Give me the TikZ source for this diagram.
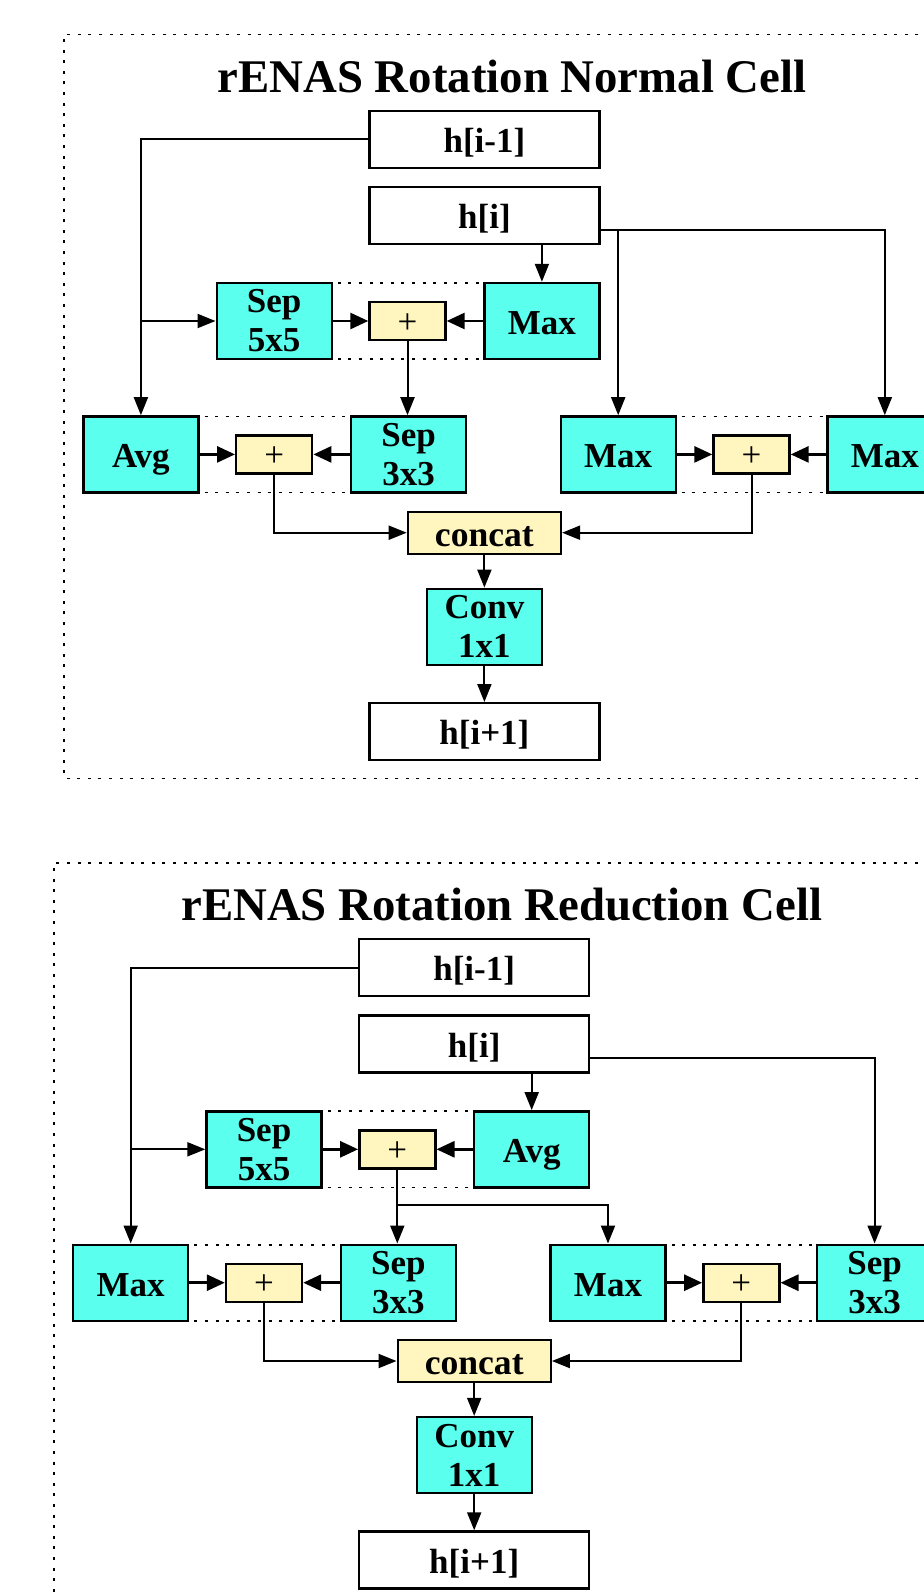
\documentclass[tikz,border=0pt]{standalone}
\usepackage{fontspec}
\setmainfont{Liberation Serif}
\usetikzlibrary{arrows.meta}
\usetikzlibrary{calc}

\definecolor{opcyan}{RGB}{90,255,238}
\definecolor{sumyellow}{RGB}{255,245,190}

\begin{document}
\begin{tikzpicture}[x=0.5pt,y=-0.5pt,
    hbox/.style={draw,line width=1.2pt,fill=white,minimum width=115pt,minimum height=28.5pt,inner sep=0pt,text height=13pt,text depth=0pt,font=\fontsize{17.5}{19}\selectfont\bfseries},
    opbox/.style={draw,line width=1.2pt,fill=opcyan,minimum width=57.5pt,minimum height=38pt,inner sep=0pt,align=center,font=\fontsize{17.5}{19.5}\selectfont\bfseries},
    opone/.style={opbox,text height=13.5pt,text depth=0pt},
    addbox/.style={draw,line width=1.2pt,fill=sumyellow,minimum width=38pt,minimum height=19pt,inner sep=0pt,text height=12pt,text depth=0pt,font=\fontsize{17.5}{19}\selectfont},
    catbox/.style={addbox,minimum width=76.5pt,minimum height=21pt,text height=13.5pt,font=\fontsize{17.8}{19}\selectfont\bfseries},
    link/.style={line width=1pt,-{Triangle[length=9pt,width=7pt]}},
    shortlink/.style={line width=1.4pt,-{Triangle[length=9pt,width=8pt]}},
    grp/.style={line width=0.9pt,dash pattern=on 1.5pt off 3.8pt},
    frame/.style={line width=0.9pt,dash pattern=on 1.5pt off 3.8pt},
    title/.style={font=\fontsize{23.4}{26}\selectfont\bfseries}]
    \useasboundingbox (0,0) rectangle (924,1595);
    \clip (0,0) rectangle (924,1595);
    %%%NORMAL CELL%%%
    \draw[frame] (960,778.5)--(64.1,778.5)--(64.1,34.6)--(960,34.6);
    \node[title] (ntitle) at (512,76) {rENAS Rotation Normal Cell};
    %inputs
    \node[hbox] (nprev) at (484.4,139.4) {h[i-1]};
    \node[hbox] (ncur) at (484.4,215.7) {h[i]};
    %first pair
    \draw[grp] (274.2,282.9)--(541.9,282.9);
    \draw[grp] (274.2,359.1)--(541.9,359.1);
    \node[opbox] (nsep5) at (274.2,321) {Sep\\5x5};
    \node[addbox] (nadd1) at (407.5,321) {+};
    \node[opone] (nmax1) at (541.9,321) {Max};
    %second and third pair
    \draw[grp] (140.9,416.4)--(408.6,416.4);
    \draw[grp] (140.9,492.4)--(408.6,492.4);
    \draw[grp] (618.2,416.4)--(884.8,416.4);
    \draw[grp] (618.2,492.4)--(884.8,492.4);
    \node[opone] (navg) at (140.9,454.4) {Avg};
    \node[addbox] (nadd2) at (274.2,454.4) {+};
    \node[opbox] (nsep3) at (408.6,454.4) {Sep\\3x3};
    \node[opone] (nmax2) at (618.2,454.4) {Max};
    \node[addbox] (nadd3) at (751.5,454.4) {+};
    \node[opone] (nmax3) at (884.8,454.4) {Max};
    %output
    \node[catbox] (ncat) at (484.4,532.7) {concat};
    \node[opbox] (nconv) at (484.4,626.8) {Conv\\1x1};
    \node[hbox] (nnext) at (484.4,731.7) {h[i+1]};
    %links
    \draw[link] (nprev.west) -| (navg.north);
    \draw[link] (navg.north |- nsep5.west)--(nsep5.west);
    \draw[link] (ncur.south -| nmax1.north)--(nmax1.north);
    \coordinate (nsplit) at ($(ncur.east)+(0,14.3)$);
    \draw[link] (nsplit) -| (nmax3.north);
    \draw[link] (nsplit -| nmax2.north)--(nmax2.north);
    \draw[shortlink] (nsep5.east)--(nadd1.west);
    \draw[shortlink] (nmax1.west)--(nadd1.east);
    \draw[link] (nadd1.south)--(nadd1.south |- nsep3.north);
    \draw[shortlink] (navg.east)--(nadd2.west);
    \draw[shortlink] (nsep3.west)--(nadd2.east);
    \draw[shortlink] (nmax2.east)--(nadd3.west);
    \draw[shortlink] (nmax3.west)--(nadd3.east);
    \draw[link] (nadd2.south) |- (ncat.west);
    \draw[link] (nadd3.south) |- (ncat.east);
    \draw[link] (ncat.south)--(nconv.north);
    \draw[link] (nconv.south)--(nnext.north);

    %%%REDUCTION CELL%%%
    \begin{scope}[shift={(-10.2,828.3)}]
    \draw[frame] (960,34.6)--(64.1,34.6)--(64.1,800);
    \node[title] (rtitle) at (512,76) {rENAS Rotation Reduction Cell};
    %inputs
    \node[hbox] (rprev) at (484.4,139.4) {h[i-1]};
    \node[hbox] (rcur) at (484.4,215.7) {h[i]};
    %first pair
    \draw[grp] (274.2,282.9)--(541.9,282.9);
    \draw[grp] (274.2,359.1)--(541.9,359.1);
    \node[opbox] (rsep5) at (274.2,321) {Sep\\5x5};
    \node[addbox] (radd1) at (407.5,321) {+};
    \node[opone] (ravg) at (541.9,321) {Avg};
    %second and third pair
    \draw[grp] (140.9,416.4)--(408.6,416.4);
    \draw[grp] (140.9,492.4)--(408.6,492.4);
    \draw[grp] (618.2,416.4)--(884.8,416.4);
    \draw[grp] (618.2,492.4)--(884.8,492.4);
    \node[opone] (rmax1) at (140.9,454.4) {Max};
    \node[addbox] (radd2) at (274.2,454.4) {+};
    \node[opbox] (rsepa) at (408.6,454.4) {Sep\\3x3};
    \node[opone] (rmax2) at (618.2,454.4) {Max};
    \node[addbox] (radd3) at (751.5,454.4) {+};
    \node[opbox] (rsepb) at (884.8,454.4) {Sep\\3x3};
    %output
    \node[catbox] (rcat) at (484.4,532.7) {concat};
    \node[opbox] (rconv) at (484.4,626.8) {Conv\\1x1};
    \node[hbox] (rnext) at (484.4,731.7) {h[i+1]};
    %links
    \draw[link] (rprev.west) -| (rmax1.north);
    \draw[link] (rmax1.north |- rsep5.west)--(rsep5.west);
    \draw[link] (rcur.south -| ravg.north)--(ravg.north);
    \coordinate (rsplit) at ($(rcur.east)+(0,14.3)$);
    \draw[link] (rsplit) -| (rsepb.north);
    \draw[shortlink] (rsep5.east)--(radd1.west);
    \draw[shortlink] (ravg.west)--(radd1.east);
    \draw[link] (radd1.south)--(radd1.south |- rsepa.north);
    \coordinate (rfork) at (407.5,376.5);
    \draw[link] (rfork) -| (rmax2.north);
    \draw[shortlink] (rmax1.east)--(radd2.west);
    \draw[shortlink] (rsepa.west)--(radd2.east);
    \draw[shortlink] (rmax2.east)--(radd3.west);
    \draw[shortlink] (rsepb.west)--(radd3.east);
    \draw[link] (radd2.south) |- (rcat.west);
    \draw[link] (radd3.south) |- (rcat.east);
    \draw[link] (rcat.south)--(rconv.north);
    \draw[link] (rconv.south)--(rnext.north);
    \end{scope}
\end{tikzpicture}
\end{document}
